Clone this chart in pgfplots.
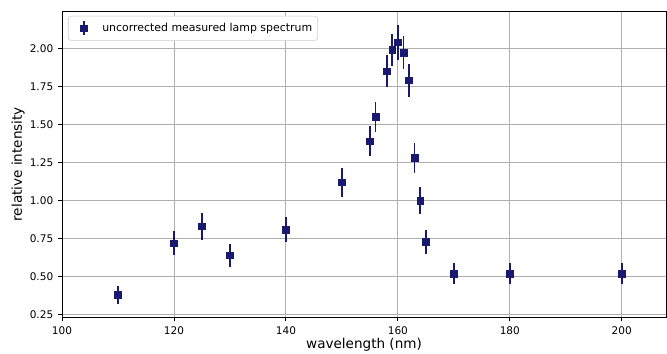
\documentclass[border=0pt]{standalone}
\usepackage{pgfplots}
\pgfplotsset{compat=1.18}
\usepackage{fontspec}
\setmainfont{DejaVu Sans}
\definecolor{midnight}{RGB}{25,25,112}
\definecolor{gridc}{RGB}{176,176,176}
\definecolor{legc}{RGB}{204,204,204}
\begin{document}
\begin{tikzpicture}
\useasboundingbox (0,0) rectangle (480.24bp,254.88bp);
\begin{axis}[
  at={(44.64bp,26.28bp)}, anchor=south west,
  scale only axis, width=434.88bp, height=220.7bp,
  xmin=100, xmax=207.9, ymin=0.232, ymax=2.245,
  xtick={100,120,140,160,180,200},
  ytick={0.25,0.5,0.75,1.0,1.25,1.5,1.75,2.0},
  yticklabel style={/pgf/number format/.cd,fixed,fixed zerofill,precision=2},
  /pgf/number format/assume math mode=true,
  tick label style={font=\fontsize{7.6}{9}\selectfont},
  label style={font=\fontsize{9.8}{11.5}\selectfont},
  xlabel={wavelength (nm)}, ylabel={relative intensity},
  xlabel style={at={(axis description cs:0.5,-0.0897)}, anchor=center},
  ylabel style={at={(axis description cs:-0.0728,0.5)}, anchor=center},
  grid=major,
  major grid style={color=gridc, line width=0.63bp},
  axis line style={line width=0.63bp},
  tick style={black, line width=0.63bp},
  major tick length=2.8bp, tick align=outside,
  xtick pos=bottom, ytick pos=left,
  legend style={at={(axis description cs:0.0099,0.984)}, anchor=north west,
    draw=legc, rounded corners=2bp, font=\fontsize{7.9}{9.5}\selectfont,
    inner xsep=2bp, inner ysep=3bp},
  legend cell align=left,
  legend image code/.code={
    \path[draw=none, fill=none] (0bp,0bp) -- (20.5bp,0bp);
    \draw[midnight, line width=1.2bp] (9.1bp,-5bp) -- (9.1bp,5bp);
    \draw[midnight, fill=midnight] plot[only marks, mark=square*, mark size=2.4bp] coordinates {(9.1bp,0bp)};
  },
]
\addplot[only marks, mark=square*, mark size=2.4bp, color=midnight,
  mark options={fill=midnight, draw=midnight},
  error bars/.cd, y dir=both, y explicit, error mark=none,
  error bar style={line width=1.2bp, color=midnight}]
  table[x=x, y=y, y error=e] {
x y e
110 0.38 0.057
120 0.72 0.08
125 0.83 0.09
130 0.64 0.075
140 0.81 0.083
150 1.12 0.095
155 1.39 0.098
156 1.55 0.10
158 1.85 0.105
159 1.99 0.107
160 2.04 0.115
161 1.97 0.109
162 1.79 0.108
163 1.28 0.098
164 1.00 0.09
165 0.73 0.078
170 0.52 0.07
180 0.52 0.07
200 0.52 0.07
};
\addlegendentry{uncorrected measured lamp spectrum}
\end{axis}
\end{tikzpicture}
\end{document}
